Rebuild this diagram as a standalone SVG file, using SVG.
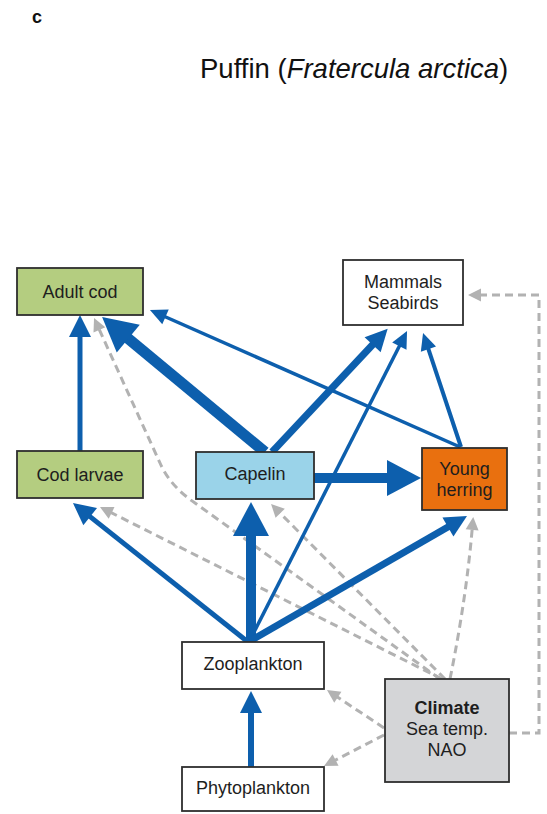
<svg xmlns="http://www.w3.org/2000/svg" width="547" height="814" viewBox="0 0 547 814">
  <style>
    .box { stroke: #2e2e2e; stroke-width: 1.8; }
    .lbl { font-family: "Liberation Sans", Arial, sans-serif; font-size: 18px; fill: #1e1e1e; text-anchor: middle; }
    .blue { fill: none; stroke: #0d5fad; stroke-linecap: butt; }
    .grey { fill: none; stroke: #b2b2b2; stroke-width: 3; stroke-dasharray: 8 5; }
  </style>
  <defs>
    <!-- arrowheads: base sits at the line end, tip extends forward -->
    <marker id="hBig" markerUnits="userSpaceOnUse" markerWidth="36" markerHeight="36" refX="1" refY="18" orient="auto" overflow="visible">
      <path d="M0,0 L34,18 L0,36 Z" fill="#0d5fad"/>
    </marker>
    <marker id="hMid" markerUnits="userSpaceOnUse" markerWidth="24" markerHeight="24" refX="1" refY="11" orient="auto" overflow="visible">
      <path d="M0,0 L22,11 L0,22 Z" fill="#0d5fad"/>
    </marker>
    <marker id="hSmall" markerUnits="userSpaceOnUse" markerWidth="18" markerHeight="18" refX="1" refY="8" orient="auto" overflow="visible">
      <path d="M0,0 L17,8 L0,16 Z" fill="#0d5fad"/>
    </marker>
    <marker id="hGrey" markerUnits="userSpaceOnUse" markerWidth="14" markerHeight="14" refX="1" refY="6.5" orient="auto" overflow="visible">
      <path d="M0,0 L13,6.5 L0,13 Z" fill="#b2b2b2"/>
    </marker>
  </defs>

  <rect width="547" height="814" fill="#ffffff"/>

  <!-- panel letter and title -->
  <text x="32" y="23" font-family="'Liberation Sans', Arial, sans-serif" font-size="18" font-weight="bold" fill="#111">c</text>
  <text x="200" y="78" font-family="'Liberation Sans', Arial, sans-serif" font-size="27.5" fill="#111">Puffin (<tspan font-style="italic">Fratercula arctica</tspan>)</text>

  <!-- connectors -->
  <g id="connectors">
    <!-- climate influences (dashed) -->
    <path class="grey" d="M440,679 L195,503 Q170,486 160,463 L99,329" marker-end="url(#hGrey)"/>
    <path class="grey" d="M442,679 L110.7,512.4" marker-end="url(#hGrey)"/>
    <path class="grey" d="M445,679 L279.5,512.5" marker-end="url(#hGrey)"/>
    <path class="grey" d="M450,679 Q466,600 472.2,528.9" marker-end="url(#hGrey)"/>
    <path class="grey" d="M509,733 L539,733 L539,295 L480,295" marker-end="url(#hGrey)"/>
    <path class="grey" d="M384,728 L337,696.7" marker-end="url(#hGrey)"/>
    <path class="grey" d="M384,735 L334.7,760.5" marker-end="url(#hGrey)"/>

    <!-- trophic links (solid) -->
    <path class="blue" stroke-width="5" d="M80,451 L80,336" marker-end="url(#hMid)"/>
    <path class="blue" stroke-width="11" d="M265,452 L127.5,338" marker-end="url(#hBig)"/>
    <path class="blue" stroke-width="3.5" d="M460,447 L164.6,316.5" marker-end="url(#hSmall)"/>
    <path class="blue" stroke-width="7" d="M272,452 L373.3,344" marker-end="url(#hMid)"/>
    <path class="blue" stroke-width="3.5" d="M249,642 L399.8,345.3" marker-end="url(#hSmall)"/>
    <path class="blue" stroke-width="4" d="M461,447 L428.1,348.2" marker-end="url(#hSmall)"/>
    <path class="blue" stroke-width="10" d="M314,478 L388,478" marker-end="url(#hBig)"/>
    <path class="blue" stroke-width="10" d="M251,642 L251,535" marker-end="url(#hBig)"/>
    <path class="blue" stroke-width="5" d="M248,642 L89.4,516.1" marker-end="url(#hMid)"/>
    <path class="blue" stroke-width="7" d="M250,641 L448.8,526.5" marker-end="url(#hMid)"/>
    <path class="blue" stroke-width="6" d="M251,767 L251,712" marker-end="url(#hMid)"/>
  </g>

  <!-- nodes -->
  <g id="adult-cod">
    <rect class="box" x="17" y="268" width="126" height="47" fill="#b4cd80"/>
    <text class="lbl" x="80" y="298">Adult cod</text>
  </g>
  <g id="mammals-seabirds">
    <rect class="box" x="343" y="260" width="120" height="65" fill="#ffffff"/>
    <text class="lbl" x="403" y="288">Mammals</text>
    <text class="lbl" x="403" y="309">Seabirds</text>
  </g>
  <g id="cod-larvae">
    <rect class="box" x="17" y="451" width="126" height="47" fill="#b4cd80"/>
    <text class="lbl" x="80" y="481">Cod larvae</text>
  </g>
  <g id="capelin">
    <rect class="box" x="196" y="452" width="118" height="47" fill="#9ad3e9"/>
    <text class="lbl" x="255" y="480">Capelin</text>
  </g>
  <g id="young-herring">
    <rect class="box" x="422" y="448" width="85" height="62" fill="#e9700f"/>
    <text class="lbl" x="464.5" y="475" fill="#2a1205">Young</text>
    <text class="lbl" x="464.5" y="496" fill="#2a1205">herring</text>
  </g>
  <g id="zooplankton">
    <rect class="box" x="182" y="642" width="142" height="47" fill="#ffffff"/>
    <text class="lbl" x="253" y="670">Zooplankton</text>
  </g>
  <g id="phytoplankton">
    <rect class="box" x="182" y="767" width="142" height="44" fill="#ffffff"/>
    <text class="lbl" x="253" y="794">Phytoplankton</text>
  </g>
  <g id="climate">
    <rect class="box" x="385" y="679" width="124" height="103" fill="#d4d5d7"/>
    <text class="lbl" x="447" y="714" font-weight="bold">Climate</text>
    <text class="lbl" x="447" y="735">Sea temp.</text>
    <text class="lbl" x="447" y="756">NAO</text>
  </g>
</svg>
